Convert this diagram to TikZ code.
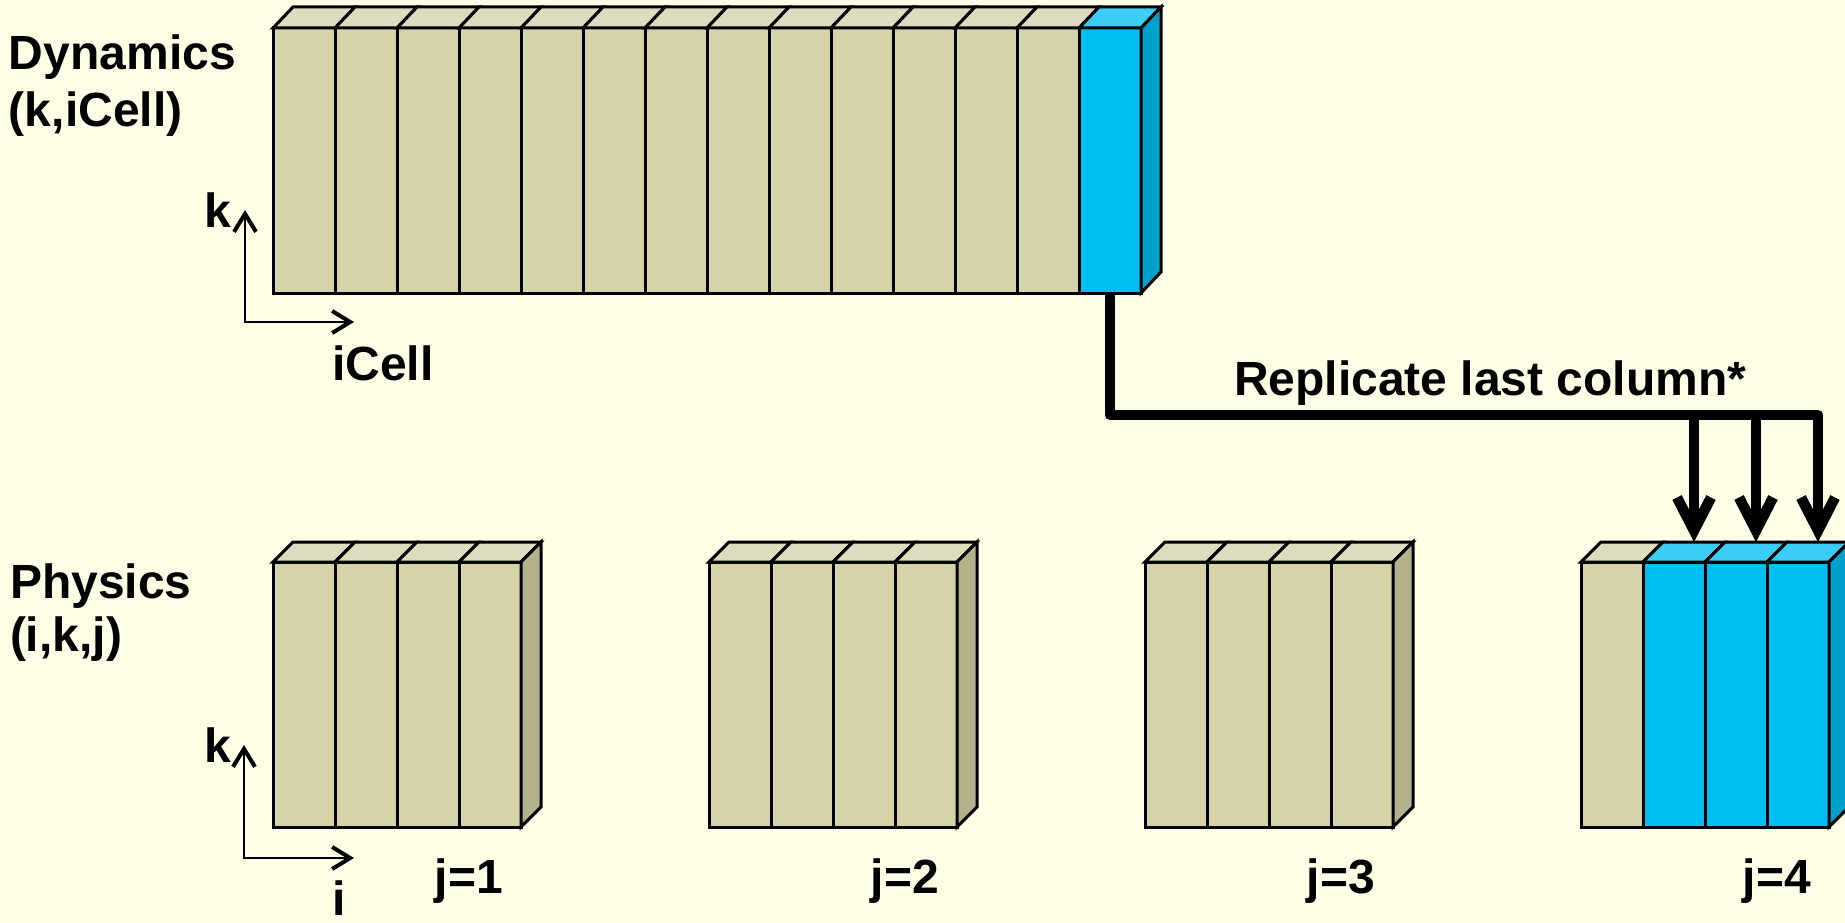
\documentclass[tikz,border=0pt]{standalone}
\usepackage{fontspec}
\setmainfont{Liberation Sans}
\usetikzlibrary{arrows.meta}
\definecolor{bgc}{RGB}{255,255,232}
\definecolor{tanF}{RGB}{214,211,168}
\definecolor{tanT}{RGB}{222,220,190}
\definecolor{tanS}{RGB}{180,177,140}
\definecolor{bluF}{RGB}{0,190,242}
\definecolor{bluT}{RGB}{60,204,245}
\definecolor{bluS}{RGB}{0,160,204}
\tikzset{
  colbox/.style={draw=black, line width=3pt, minimum width=62pt, minimum height=265pt, inner sep=0pt, outer sep=0pt},
  face/.style={draw=black, line width=3pt, line join=miter},
  lbl/.style={font=\fontsize{48}{56}\selectfont\bfseries, inner sep=0pt, outer sep=0pt},
  axisline/.style={line width=2.5pt, {Straight Barb[length=18pt,width=22pt,line width=4pt]}-{Straight Barb[length=18pt,width=22pt,line width=4pt]}},
  busarrow/.style={line width=10.5pt, line join=round, -{Straight Barb[length=33pt,width=34pt]}},
}
\begin{document}
\begin{tikzpicture}[x=1pt,y=-1pt]
\fill[bgc] (0,0) rectangle (1845,923);
\useasboundingbox (0,0) rectangle (1845,923);

% Dynamics array
\foreach \i in {1,...,14} {
  \ifnum\i<14 \def\fc{tanF}\def\tc{tanT}\else \def\fc{bluF}\def\tc{bluT}\fi
  \node[colbox, fill=\fc] (d\i) at ({273+62*\i-31},160.5) {};
  \draw[face, fill=\tc] (d\i.north west) -- ++(20,-21) -- ++(62,0) -- (d\i.north east) -- cycle;
}
\draw[face, fill=bluS] (d14.north east) -- ++(20,-21) -- ++(0,265) -- (d14.south east) -- cycle;

% Physics arrays
\foreach \b/\L in {1/273,2/709,3/1145,4/1581} {
  \foreach \c in {1,...,4} {
    \def\fc{tanF}\def\tc{tanT}
    \ifnum\b=4 \ifnum\c>1 \def\fc{bluF}\def\tc{bluT}\fi\fi
    \node[colbox, fill=\fc] (p\b\c) at ({\L+62*\c-31},694.5) {};
    \draw[face, fill=\tc] (p\b\c.north west) -- ++(20,-20) -- ++(62,0) -- (p\b\c.north east) -- cycle;
  }
  \ifnum\b=4 \def\sc{bluS}\else \def\sc{tanS}\fi
  \draw[face, fill=\sc] (p\b4.north east) -- ++(20,-20) -- ++(0,265) -- (p\b4.south east) -- cycle;
  \node[lbl, anchor=base] (j\b) at ({\L+196},893) {j=\b};
}

% labels
\node[lbl, anchor=base west] (dyn) at (9,70) {Dynamics};
\node[lbl, anchor=base west] (dynidx) at (9,127) {(k,iCell)};
\node[lbl, anchor=base west] (phy) at (10,598) {Physics};
\node[lbl, anchor=base west] (phyidx) at (10,651) {(i,k,j)};

% axes
\coordinate (o1) at (245,322); \coordinate (k1) at (245,210); \coordinate (e1) at (354,322);
\draw[axisline] (k1) -- (o1) -- (e1);
\node[lbl, anchor=base west] (klab1) at (204,227) {k};
\node[lbl, anchor=base west] (iclab) at (332,380) {iCell};

\coordinate (o2) at (244,858); \coordinate (k2) at (244,745); \coordinate (e2) at (354,858);
\draw[axisline] (k2) -- (o2) -- (e2);
\node[lbl, anchor=base west] (klab2) at (204,762) {k};
\node[lbl, anchor=base west] (ilab) at (332,915) {i};

% replicate connector
\path (d14.south) ++(0,122) coordinate (bend);
\foreach \c in {2,3,4} { \path (p4\c.north) ++(20,-20) coordinate (t\c); }
\draw[busarrow] (d14.south) -- (bend) -| (t4);
\draw[busarrow] (bend -| t2) -- (t2);
\draw[busarrow] (bend -| t3) -- (t3);
\node[lbl, anchor=base west] (rep) at (1234,395) {Replicate last column*};
\end{tikzpicture}
\end{document}
